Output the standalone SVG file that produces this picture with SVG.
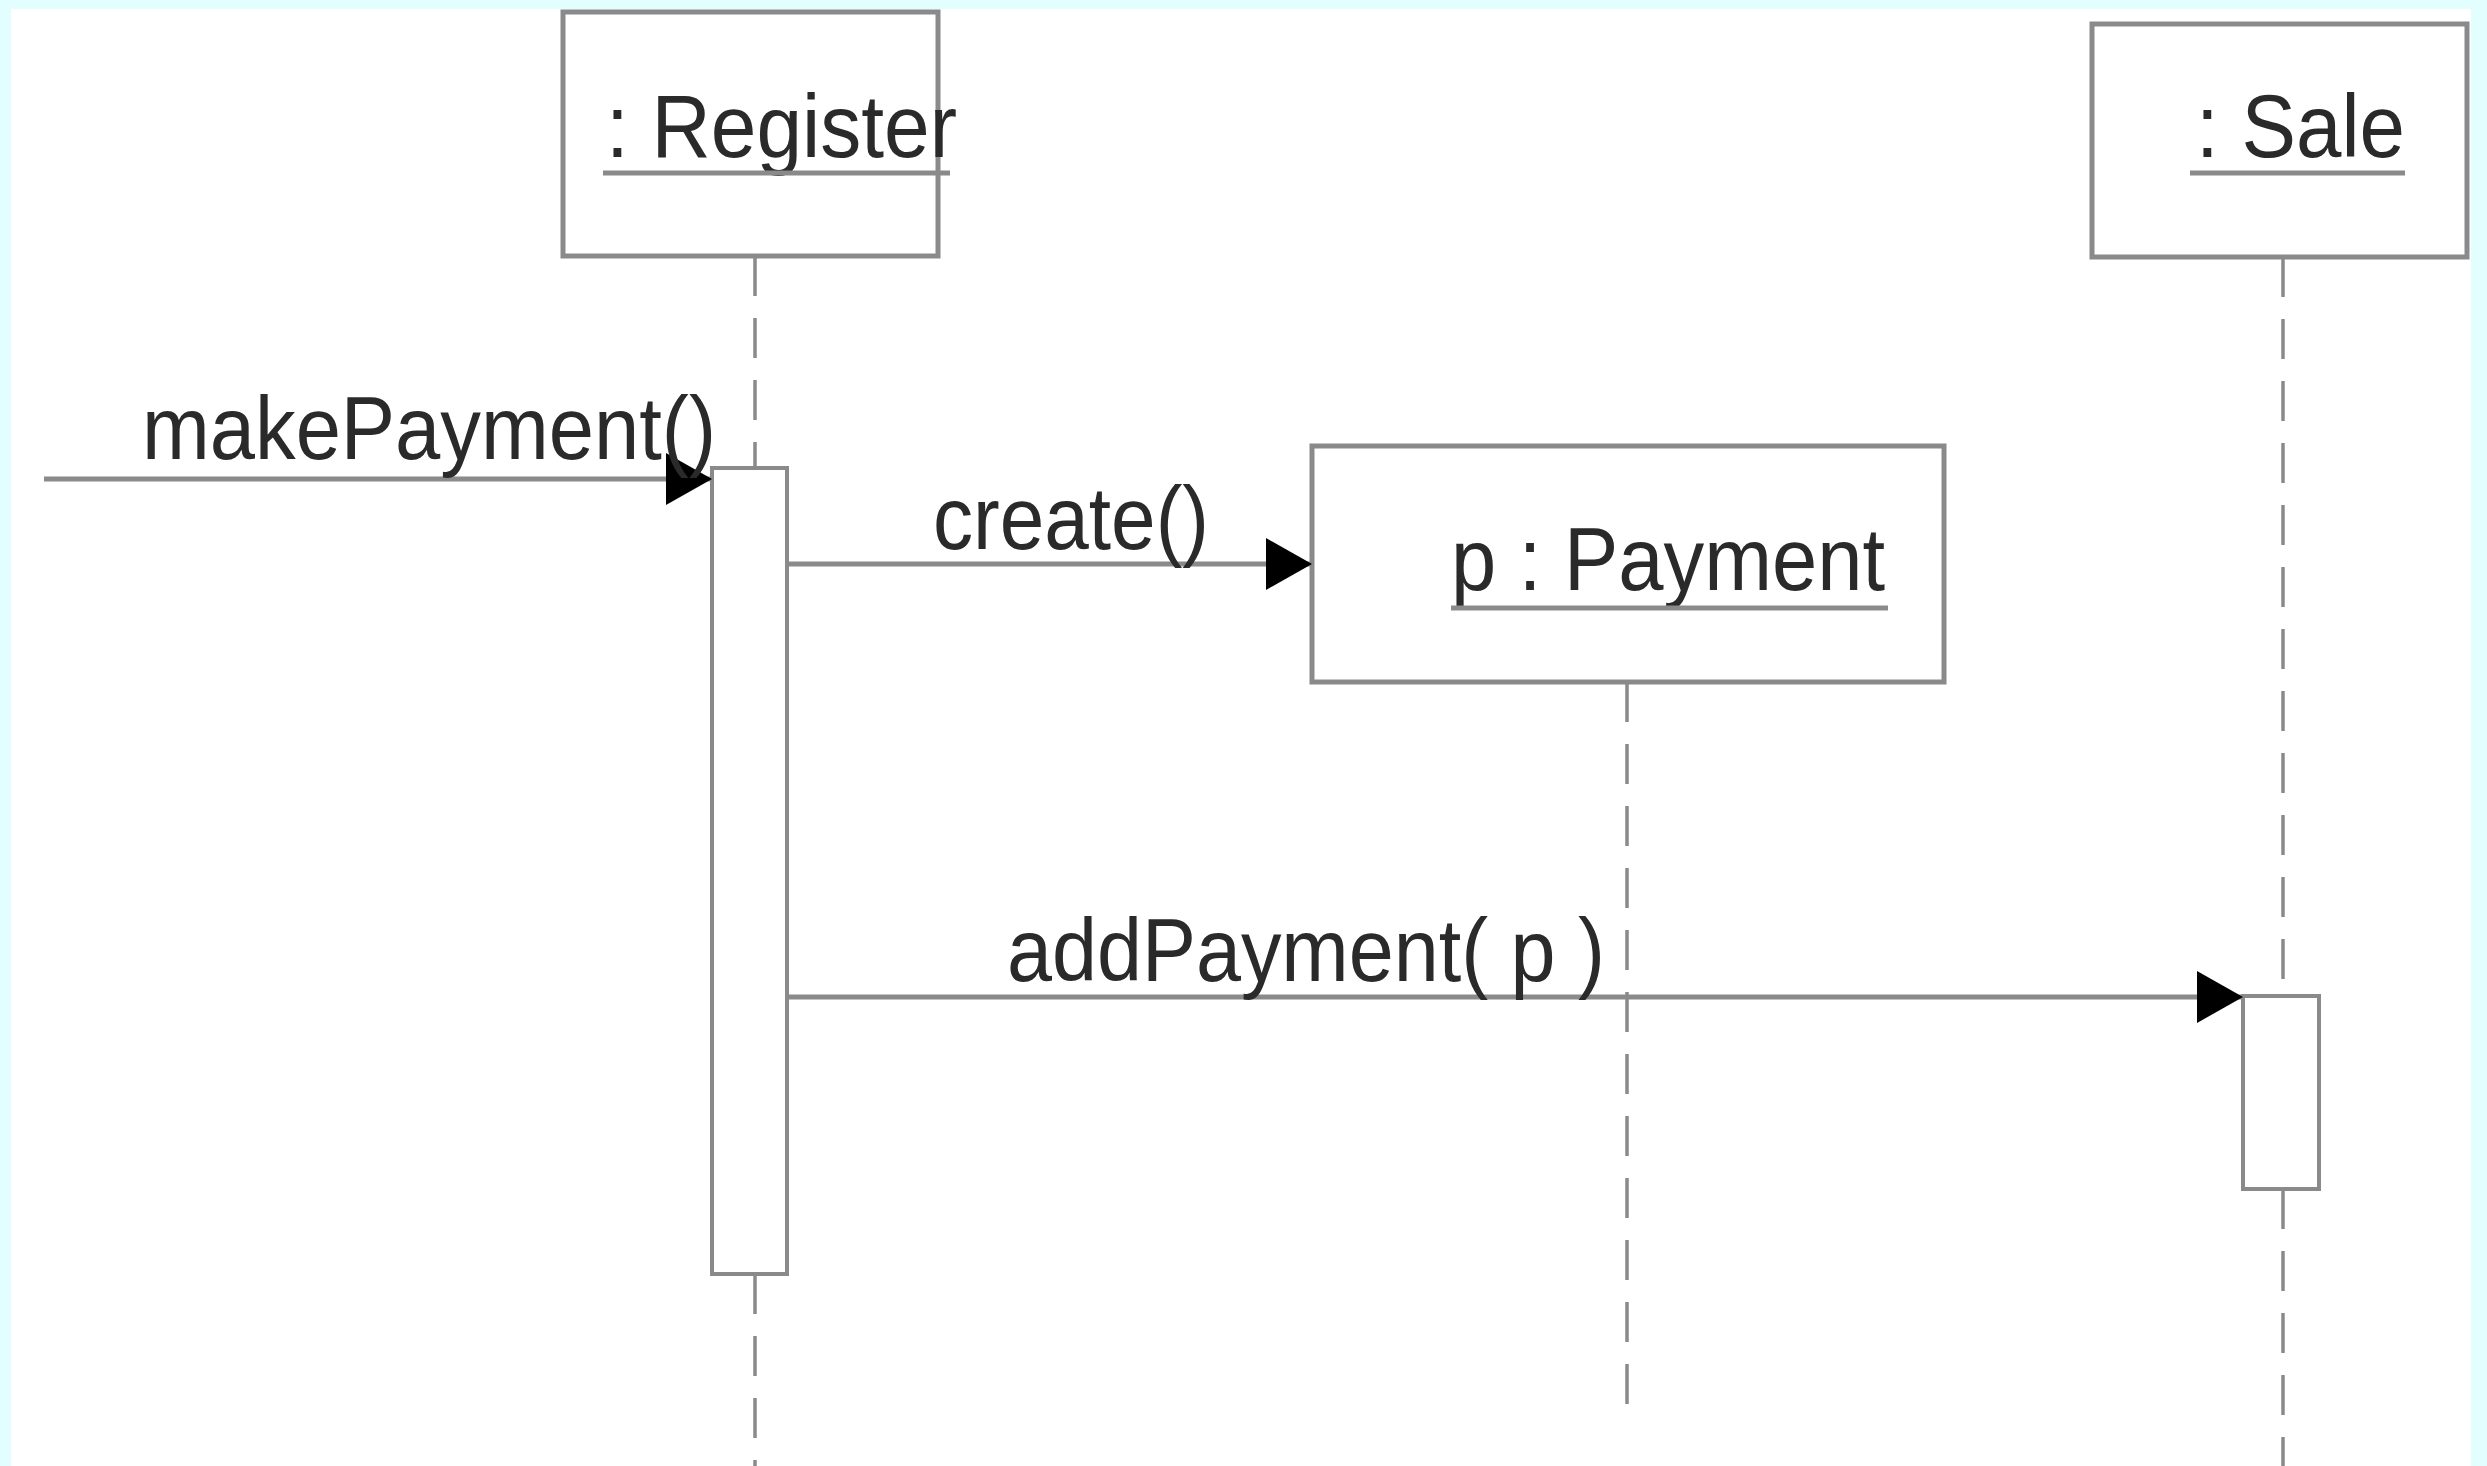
<svg xmlns="http://www.w3.org/2000/svg" width="2487" height="1466" viewBox="0 0 2487 1466">
<style>
.box{fill:#ffffff;stroke:#8a8a8a;stroke-width:5}
.act{fill:#ffffff;stroke:#8a8a8a;stroke-width:4}
.life{stroke:#8a8a8a;stroke-width:3.5;stroke-dasharray:40 22;fill:none}
.msg{stroke:#8a8a8a;stroke-width:5;fill:none;marker-end:url(#arr)}
.ul{stroke:#8a8a8a;stroke-width:5}
.t{font-family:"Liberation Sans",Arial,sans-serif;font-size:89px;fill:#2a2a2a}
</style>
<defs>
<marker id="arr" markerUnits="userSpaceOnUse" markerWidth="48" markerHeight="54" refX="46" refY="26" orient="auto">
<path d="M0,0 L46,26 L0,52 Z" fill="#000000"/>
</marker>
</defs>
<rect x="0" y="0" width="2487" height="1466" fill="#e2fefe"/>
<rect x="11" y="9" width="2460" height="1457" fill="#ffffff"/>

<g id="lifelines">
<line class="life" x1="755" y1="256" x2="755" y2="468"/>
<line class="life" x1="755" y1="1274" x2="755" y2="1466"/>
<line class="life" x1="1627" y1="682" x2="1627" y2="1416"/>
<line class="life" x1="2283" y1="257" x2="2283" y2="996"/>
<line class="life" x1="2283" y1="1189" x2="2283" y2="1466"/>
</g>

<g id="register">
<rect class="box" x="563" y="12" width="375" height="244"/>
<text class="t" x="606" y="157" textLength="351" lengthAdjust="spacingAndGlyphs">: Register</text>
<line class="ul" x1="603" y1="173" x2="950" y2="173"/>
</g>

<g id="register-activation">
<rect class="act" x="712" y="468" width="75" height="806"/>
</g>

<g id="payment">
<rect class="box" x="1312" y="446" width="632" height="236"/>
<text class="t" x="1451" y="590" textLength="434" lengthAdjust="spacingAndGlyphs">p : Payment</text>
<line class="ul" x1="1451" y1="608" x2="1888" y2="608"/>
</g>

<g id="sale">
<rect class="box" x="2092" y="24" width="375" height="233"/>
<text class="t" x="2196" y="157" textLength="209" lengthAdjust="spacingAndGlyphs">: Sale</text>
<line class="ul" x1="2190" y1="173" x2="2405" y2="173"/>
</g>

<g id="sale-activation">
<rect class="act" x="2243" y="996" width="76" height="193"/>
</g>

<g id="connectors">
<line class="msg" x1="44" y1="479" x2="712" y2="479"/>
<text class="t" x="142" y="459" textLength="574" lengthAdjust="spacingAndGlyphs">makePayment()</text>
<line class="msg" x1="787" y1="564" x2="1312" y2="564"/>
<text class="t" x="933" y="549" textLength="276" lengthAdjust="spacingAndGlyphs">create()</text>
<line class="msg" x1="787" y1="997" x2="2243" y2="997"/>
<text class="t" x="1007" y="981" textLength="598" lengthAdjust="spacingAndGlyphs">addPayment( p )</text>
</g>
</svg>
